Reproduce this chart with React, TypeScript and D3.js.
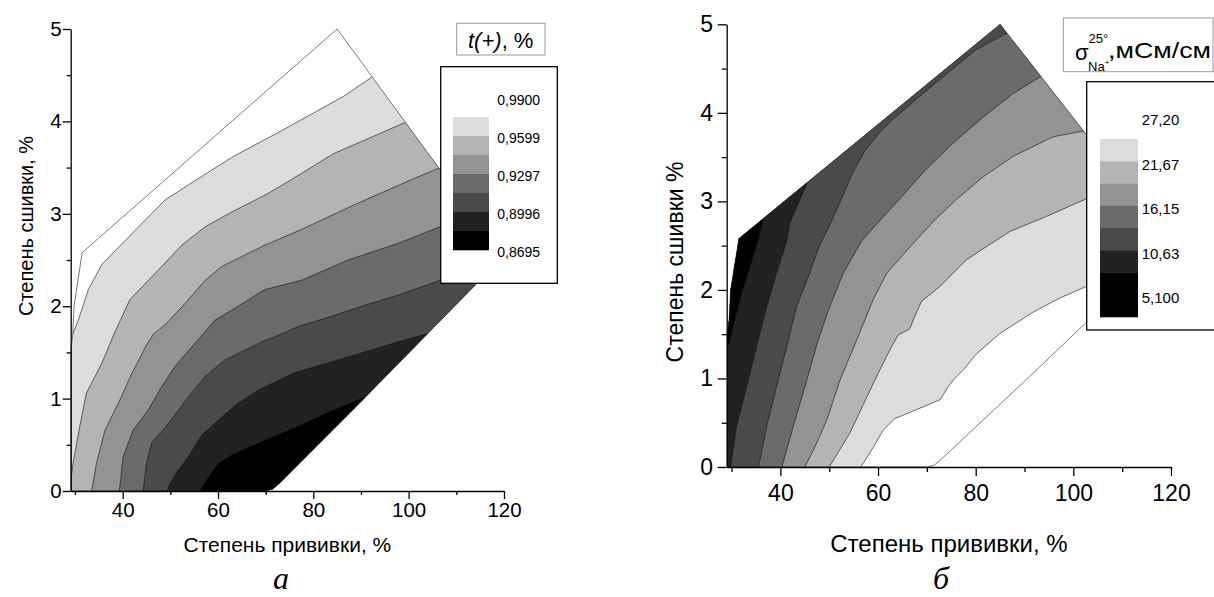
import React, { useEffect } from 'react'
import { axisBottom, axisLeft, format, line, scaleLinear, select } from 'd3'

const FONT = '"Liberation Sans", Arial, Helvetica, sans-serif'
const SERIF = '"Liberation Serif", "Times New Roman", serif'

// outline of the measured region, [степень прививки %, степень сшивки %]
const hull = [[29.1, 0], [29.1, 1.52], [29.5, 1.67], [29.8, 2.0], [31.5, 2.58], [85, 5], [119.9, 2.54], [91, 1.02], [73, 0.09], [71.5, 0.02], [70, 0]]

// panel а: t(+) isolines, each read from upper right to lower left
const t9749 = [[92.3, 4.48], [86.3, 4.27], [73.7, 3.91], [63.2, 3.62], [54.6, 3.34], [48.9, 3.15], [42.6, 2.82], [35.6, 2.45], [32.8, 2.18], [30.7, 1.85], [29.6, 1.71], [28.8, 1.65]]
const t9599 = [[99.3, 3.99], [94.0, 3.87], [84.2, 3.65], [75.4, 3.37], [70.5, 3.22], [62.9, 3.02], [57.3, 2.86], [52.4, 2.66], [48.2, 2.43], [41.5, 2.07], [38.2, 1.70], [35.6, 1.38], [32.4, 1.06], [31.0, 0.70], [29.6, 0.30], [29.2, 0.15], [28.8, 0.1]]
const t9448 = [[107.5, 3.52], [105.2, 3.47], [100.6, 3.37], [88.7, 3.10], [77.5, 2.83], [69.8, 2.66], [60.8, 2.43], [57.3, 2.28], [52.4, 1.99], [48.9, 1.80], [46.5, 1.70], [45.0, 1.58], [41.9, 1.27], [39.1, 0.95], [36.3, 0.66], [34.5, 0.30], [33.5, 0]]
const t9297 = [[112, 2.98], [106.6, 2.86], [97.8, 2.68], [87.3, 2.50], [77.5, 2.28], [69.8, 2.18], [63.6, 1.98], [59.4, 1.85], [56.2, 1.66], [51.0, 1.35], [48.2, 1.13], [45.4, 0.88], [42.2, 0.66], [40.1, 0.37], [39.3, 0]]
const t9146 = [[112, 2.38], [106.6, 2.28], [97.8, 2.12], [90.8, 2.01], [83.8, 1.89], [76.8, 1.78], [72.0, 1.67], [69.8, 1.63], [61.5, 1.42], [57.3, 1.24], [53.8, 1.02], [49.6, 0.73], [46.1, 0.52], [45.0, 0.30], [44.3, 0]]
const t8996 = [[105.2, 1.72], [98.2, 1.62], [84.0, 1.40], [76.0, 1.28], [68.4, 1.09], [64.2, 0.95], [60.8, 0.80], [56.5, 0.60], [53.8, 0.37], [51.0, 0.18], [49.2, 0]]
const t8845 = [[91.0, 1.02], [83.0, 0.85], [76.8, 0.70], [69.8, 0.55], [62.9, 0.39], [60.1, 0.30], [58.0, 0.15], [56.2, 0]]
const tLines = [t9749, t9599, t9448, t9297, t9146, t8996, t8845]
const tColors = ['#dcdcdc', '#b4b4b4', '#939393', '#6b6b6b', '#4a4a4a', '#222222', '#000000']
const tSwatches = ['#dcdcdc', '#b4b4b4', '#939393', '#6b6b6b', '#4a4a4a', '#222222', '#000000']
const tLabels = ['0,9900', '0,9599', '0,9297', '0,8996', '0,8695']

// panel б: conductivity isolines, mS/cm
const s2444 = [[125, 2.7], [112, 2.3], [102.7, 2.04], [97.3, 1.91], [91.8, 1.75], [85.0, 1.51], [80.2, 1.28], [77.5, 1.10], [75.4, 0.98], [74.4, 0.91], [72.7, 0.76], [64.5, 0.57], [63.5, 0.55], [61.1, 0.42], [59.1, 0.23], [56.5, 0]]
const s2167 = [[112, 3.25], [102.7, 3.03], [94.5, 2.83], [87.0, 2.66], [82.5, 2.50], [78.1, 2.34], [72.7, 2.04], [68.9, 1.87], [67.2, 1.66], [66.5, 1.56], [64.1, 1.49], [62.4, 1.32], [60.4, 1.10], [57.7, 0.79], [54.2, 0.38], [50.0, 0]]
const s1891 = [[102.6, 3.80], [95.9, 3.73], [87.7, 3.51], [81.6, 3.28], [76.0, 3.02], [71.8, 2.80], [67.9, 2.57], [61.8, 2.19], [59.0, 1.89], [55.6, 1.43], [52.2, 0.98], [49.5, 0.53], [47.1, 0.23], [45.0, 0]]
const s1615 = [[93.6, 4.42], [87.7, 4.22], [81.5, 3.95], [75.4, 3.66], [69.8, 3.36], [64.8, 3.05], [60.3, 2.78], [56.6, 2.55], [52.9, 2.19], [50.1, 1.81], [47.7, 1.43], [45.4, 0.98], [43.0, 0.53], [40.3, 0]]
const s1339 = [[86.3, 4.90], [80, 4.71], [74.7, 4.47], [68.6, 4.19], [63.1, 3.93], [60.2, 3.77], [57.3, 3.57], [54.6, 3.30], [52.2, 2.99], [50.0, 2.72], [48.0, 2.50], [46.0, 2.19], [43.3, 1.81], [41.3, 1.36], [39.2, 0.91], [37.2, 0.46], [35.5, 0]]
const s1063 = [[45.8, 3.3], [45.4, 3.19], [44.0, 3.02], [41.9, 2.75], [41.3, 2.55], [39.2, 2.19], [37.2, 1.81], [35.1, 1.36], [33.1, 0.91], [31.0, 0.46], [29.8, 0]]
const s786 = [[36.7, 2.86], [36.5, 2.79], [35.5, 2.57], [33.4, 2.19], [31.7, 1.89], [30.3, 1.58], [29.5, 1.40], [28.5, 1.3]]
const sLines = [s2444, s2167, s1891, s1615, s1339, s1063, s786]
const sColors = ['#dcdcdc', '#b4b4b4', '#939393', '#6b6b6b', '#4a4a4a', '#222222', '#000000']
const sSwatches = ['#dcdcdc', '#b4b4b4', '#939393', '#6b6b6b', '#4a4a4a', '#222222', '#000000', '#000000']
const sLabels = ['27,20', '21,67', '16,15', '10,63', '5,100']

const xMajor = [40, 60, 80, 100, 120]
const xMinor = [30, 50, 70, 90, 110]
const yMajor = [0, 1, 2, 3, 4, 5]
const yMinor = [0.5, 1.5, 2.5, 3.5, 4.5]

const intFmt = format('d')

const axisRef = (axis, fs, keepDomain = true) => node => {
  if (!node) return
  const g = select(node)
  g.call(axis)
  g.attr('font-size', fs).attr('font-family', FONT)
  g.selectAll('path,line').attr('stroke', '#000').attr('stroke-width', 1.3)
  if (!keepDomain) g.select('.domain').remove()
}

const Panel = ({ id, x, y, lines, colors, side, fs, major, minor, xPad, yPad }) => {
  const path = line().x(d => x(d[0])).y(d => y(d[1]))
  const hullD = path(hull) + 'Z'
  // close each isoline round the side where the lower values lie
  const shapes = lines.map(pts => {
    const a = pts[0]
    const b = pts[pts.length - 1]
    const tail = side === 'below'
      ? [[20, b[1]], [20, -1], [130, -1], [130, a[1]]]
      : [[20, b[1]], [20, 6], [a[0], 6]]
    return path(pts.concat(tail)) + 'Z'
  })
  const x0 = x.range()[0]
  const y0 = y(0)
  return (
    <g>
      <defs>
        <clipPath id={id}><path d={hullD} /></clipPath>
      </defs>
      <g clipPath={`url(#${id})`}>
        <path d={hullD} fill="#fff" />
        {shapes.map((d, i) => <path key={'f' + i} d={d} fill={colors[i]} />)}
        {lines.map((pts, i) => <path key={'l' + i} d={path(pts)} fill="none" stroke="#111" strokeWidth={0.6} />)}
      </g>
      <path d={hullD} fill="none" stroke="#222" strokeWidth={0.6} />
      <g transform={`translate(0,${y0})`} ref={axisRef(axisBottom(x).tickValues(xMinor).tickSize(minor).tickFormat(() => ''), fs, false)} />
      <g transform={`translate(0,${y0})`} ref={axisRef(axisBottom(x).tickValues(xMajor).tickSize(major).tickSizeOuter(0).tickPadding(xPad).tickFormat(intFmt), fs)} />
      <g transform={`translate(${x0},0)`} ref={axisRef(axisLeft(y).tickValues(yMinor).tickSize(minor).tickFormat(() => ''), fs, false)} />
      <g transform={`translate(${x0},0)`} ref={axisRef(axisLeft(y).tickValues(yMajor).tickSize(major).tickSizeOuter(0).tickPadding(yPad).tickFormat(intFmt), fs)} />
    </g>
  )
}

export default () => {
  useEffect(() => {
    document.body.style.margin = '0'
  }, [])

  const xL = scaleLinear().domain([29.1, 120]).range([70.7, 504])
  const yL = scaleLinear().domain([0, 5]).range([491, 29])
  const xR = scaleLinear().domain([29.0, 120]).range([726.7, 1171])
  const yR = scaleLinear().domain([0, 5]).range([467, 24.3])

  const legL = scaleLinear().domain([0, 7]).range([117, 250])
  const legR = scaleLinear().domain([0, 8]).range([139, 317])

  return (
    <svg width={1214} height={597} viewBox="0 0 1214 597" style={{ display: 'block' }} fontFamily={FONT}>
      <rect width={1214} height={597} fill="#fff" />

      <Panel id="clipA" x={xL} y={yL} lines={tLines} colors={tColors} side="below" fs={20.5} major={8} minor={4} xPad={3} yPad={1} />
      <Panel id="clipB" x={xR} y={yR} lines={sLines} colors={sColors} side="above" fs={23} major={9} minor={5} xPad={8.5} yPad={4.7} />

      {/* axis titles */}
      <text x={287.4} y={551.7} fontSize={21} textAnchor="middle">Степень прививки, %</text>
      <text transform="translate(33,226) rotate(-90)" fontSize={20} textAnchor="middle">Степень сшивки, %</text>
      <text x={949} y={551.5} fontSize={24} textAnchor="middle">Степень прививки, %</text>
      <text transform="translate(683,262) rotate(-90)" fontSize={23} textAnchor="middle">Степень сшивки %</text>

      {/* captions */}
      <text x={281} y={589} fontSize={32} fontFamily={SERIF} fontStyle="italic" textAnchor="middle">а</text>
      <text x={941} y={589} fontSize={32} fontFamily={SERIF} fontStyle="italic" textAnchor="middle">б</text>

      {/* legend а */}
      <rect x={456.7} y={23.3} width={88.3} height={31.7} fill="#fff" stroke="#999" strokeWidth={1} />
      <text x={468} y={48} fontSize={22}>
        <tspan fontStyle="italic">t(+)</tspan>, %
      </text>
      <rect x={440.7} y={66.7} width={116.6} height={216.6} fill="#fff" stroke="#000" strokeWidth={1.3} />
      {tSwatches.map((c, i) => (
        <rect key={i} x={453} y={legL(i)} width={36} height={legL(i + 1) - legL(i) + 0.3} fill={c} />
      ))}
      {tLabels.map((t, k) => (
        <text key={t} x={497.3} y={legL(2 * k - 1) + 2.5} dy="0.35em" fontSize={14}>{t}</text>
      ))}

      {/* legend б */}
      <rect x={1063.3} y={18} width={149.7} height={53.7} fill="#fff" stroke="#999" strokeWidth={1} />
      <text x={1075} y={60} fontSize={22}>σ</text>
      <text x={1088.5} y={43} fontSize={13}>25°</text>
      <text x={1088} y={71} fontSize={13}>Na<tspan fontSize={8} dy={-6}>+</tspan></text>
      <text x={1108} y={58} fontSize={22} textLength={103} lengthAdjust="spacingAndGlyphs">,мСм/см</text>
      <rect x={1086.7} y={81.7} width={140} height={248.3} fill="#fff" stroke="#000" strokeWidth={1.3} />
      {sSwatches.map((c, i) => (
        <rect key={i} x={1100} y={legR(i)} width={38} height={legR(i + 1) - legR(i) + 0.3} fill={c} />
      ))}
      {sLabels.map((t, k) => (
        <text key={t} x={1141.7} y={legR(2 * k - 1) + 3} dy="0.35em" fontSize={15}>{t}</text>
      ))}
    </svg>
  )
}
